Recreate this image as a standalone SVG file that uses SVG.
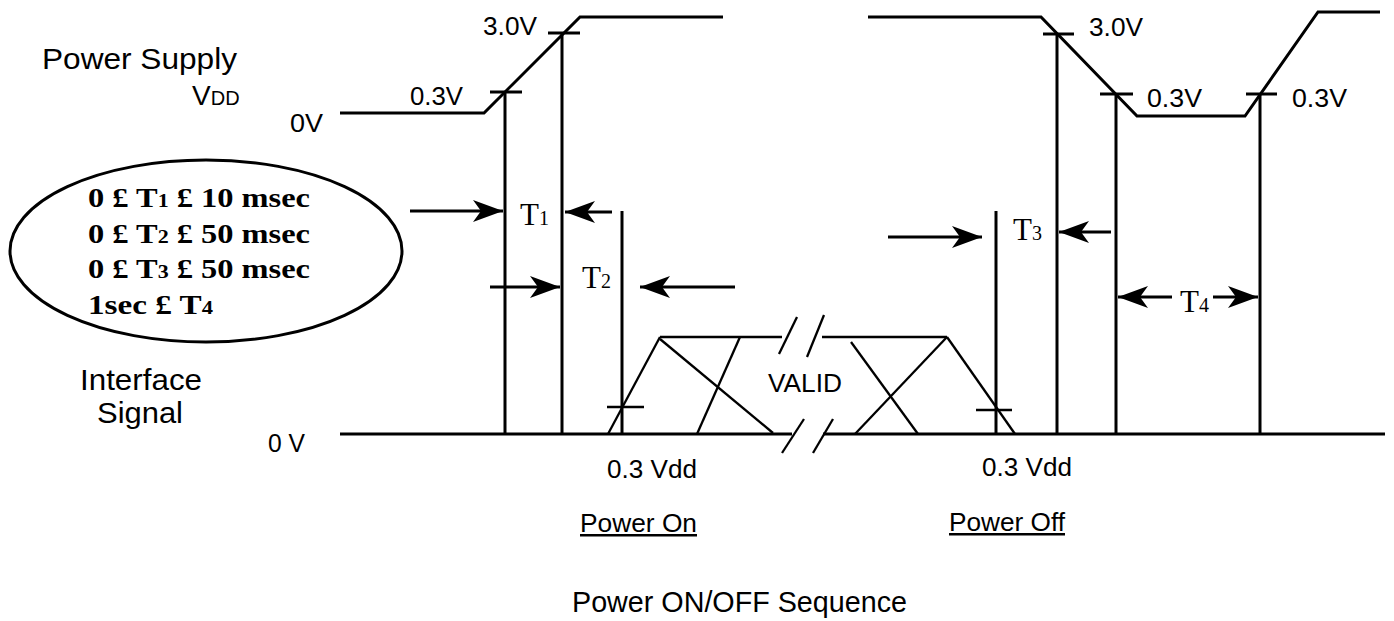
<svg xmlns="http://www.w3.org/2000/svg" width="1394" height="621" viewBox="0 0 1394 621">
<style>
.ln{stroke:#000;stroke-width:3;fill:none;stroke-linecap:butt}
.th{stroke:#000;stroke-width:2.3;fill:none}
.sans{font-family:"Liberation Sans",Arial,sans-serif;fill:#000}
.big{font-size:30px}
.sm{font-size:25px}
.ser{font-family:"Liberation Serif","Times New Roman",serif;fill:#000}
.eq{font-size:28px;font-weight:bold}
.tl{font-size:31px}
</style>
<defs>
<marker id="ah" markerUnits="userSpaceOnUse" markerWidth="32" markerHeight="24" viewBox="-31 -12 32 24" refX="0" refY="0" orient="auto">
<path d="M0,0 L-30,-11 L-22,0 L-30,11 Z" fill="#000"/>
</marker>
</defs>
<rect width="1394" height="621" fill="#fff"/>

<g id="labels-left">
<text class="sans big" x="42" y="69" textLength="195" lengthAdjust="spacingAndGlyphs">Power Supply</text>
<text class="sans" x="192" y="105"><tspan font-size="28">V</tspan><tspan font-size="20">DD</tspan></text>
<text class="sans sm" x="290" y="132" textLength="33" lengthAdjust="spacingAndGlyphs">0V</text>
<text class="sans big" x="80" y="390" textLength="122" lengthAdjust="spacingAndGlyphs">Interface</text>
<text class="sans big" x="97" y="423" textLength="86" lengthAdjust="spacingAndGlyphs">Signal</text>
<text class="sans sm" x="268" y="452" textLength="37" lengthAdjust="spacingAndGlyphs">0 V</text>
</g>

<g id="conditions">
<ellipse cx="206" cy="251" rx="196" ry="91" class="ln" stroke-width="2.5"/>
<text class="ser eq" x="88" y="207" textLength="222" lengthAdjust="spacingAndGlyphs">0 £ T<tspan font-size="19">1</tspan> £  10 msec</text>
<text class="ser eq" x="88" y="243" textLength="222" lengthAdjust="spacingAndGlyphs">0 £ T<tspan font-size="19">2</tspan> £  50 msec</text>
<text class="ser eq" x="88" y="278" textLength="222" lengthAdjust="spacingAndGlyphs">0 £ T<tspan font-size="19">3</tspan> £  50 msec</text>
<text class="ser eq" x="88" y="314" textLength="125" lengthAdjust="spacingAndGlyphs">1sec £ T<tspan font-size="19">4</tspan></text>
</g>

<g id="power-supply-on">
<polyline class="ln" points="340,113 484,113 580,17 723,17"/>
<line class="ln" x1="490" y1="92" x2="522" y2="92"/>
<line class="ln" x1="548" y1="33" x2="580" y2="33"/>
<text class="sans sm" x="410" y="105" textLength="53" lengthAdjust="spacingAndGlyphs">0.3V</text>
<text class="sans sm" x="483" y="35" textLength="54" lengthAdjust="spacingAndGlyphs">3.0V</text>
</g>

<g id="power-supply-off">
<polyline class="ln" points="868,17 1041,17 1137,116 1245,116 1318,12 1380,12"/>
<line class="ln" x1="1043" y1="34" x2="1074" y2="34"/>
<line class="ln" x1="1100" y1="94" x2="1133" y2="94"/>
<line class="ln" x1="1246" y1="94" x2="1277" y2="94"/>
<text class="sans sm" x="1089" y="36" textLength="54" lengthAdjust="spacingAndGlyphs">3.0V</text>
<text class="sans sm" x="1147" y="107" textLength="55" lengthAdjust="spacingAndGlyphs">0.3V</text>
<text class="sans sm" x="1292" y="107" textLength="55" lengthAdjust="spacingAndGlyphs">0.3V</text>
</g>

<g id="interface-signal">
<line class="ln" x1="340" y1="434" x2="792" y2="434"/>
<line class="ln" x1="823" y1="434" x2="1385" y2="434"/>
<line class="th" x1="660" y1="337" x2="782" y2="337"/>
<line class="th" x1="822" y1="337" x2="947" y2="337"/>
<line class="th" x1="608" y1="434" x2="660" y2="337"/>
<line class="th" x1="660" y1="339" x2="773" y2="433"/>
<line class="th" x1="697" y1="434" x2="740" y2="337"/>
<line class="th" x1="851" y1="342" x2="918" y2="434"/>
<line class="th" x1="855" y1="434" x2="947" y2="337"/>
<line class="th" x1="947" y1="337" x2="1015" y2="434"/>
<line class="th" x1="607" y1="407" x2="644" y2="407"/>
<line class="th" x1="976" y1="410" x2="1012" y2="410"/>
<line class="th" x1="779" y1="354" x2="797" y2="317"/>
<line class="th" x1="807" y1="357" x2="824" y2="315"/>
<line class="th" x1="782" y1="453" x2="804" y2="419"/>
<line class="th" x1="813" y1="453" x2="833" y2="419"/>
<text class="sans sm" x="768" y="392" textLength="74" lengthAdjust="spacingAndGlyphs">VALID</text>
<text class="sans sm" x="607" y="478" textLength="90" lengthAdjust="spacingAndGlyphs">0.3 Vdd</text>
<text class="sans sm" x="982" y="476" textLength="90" lengthAdjust="spacingAndGlyphs">0.3 Vdd</text>
</g>

<g id="timing-lines">
<line class="ln" x1="505" y1="92" x2="505" y2="434"/>
<line class="ln" x1="562" y1="33" x2="562" y2="434"/>
<line class="ln" x1="622" y1="211" x2="622" y2="434"/>
<line class="ln" x1="996" y1="211" x2="996" y2="434"/>
<line class="ln" x1="1057" y1="34" x2="1057" y2="434"/>
<line class="ln" x1="1116" y1="94" x2="1116" y2="434"/>
<line class="ln" x1="1260" y1="94" x2="1260" y2="434"/>
</g>

<g id="connectors">
<line class="ln" x1="410" y1="211" x2="503" y2="211" marker-end="url(#ah)"/>
<line class="ln" x1="612" y1="212" x2="565" y2="212" marker-end="url(#ah)"/>
<line class="ln" x1="490" y1="287" x2="560" y2="287" marker-end="url(#ah)"/>
<line class="ln" x1="735" y1="287" x2="640" y2="287" marker-end="url(#ah)"/>
<line class="ln" x1="888" y1="237" x2="982" y2="237" marker-end="url(#ah)"/>
<line class="ln" x1="1111" y1="232" x2="1059" y2="232" marker-end="url(#ah)"/>
<line class="ln" x1="1172" y1="297" x2="1118" y2="297" marker-end="url(#ah)"/>
<line class="ln" x1="1213" y1="297" x2="1258" y2="297" marker-end="url(#ah)"/>
</g>

<g id="t-labels">
<text class="ser tl" x="520" y="225">T<tspan font-size="20">1</tspan></text>
<text class="ser tl" x="582" y="288">T<tspan font-size="20">2</tspan></text>
<text class="ser tl" x="1013" y="240">T<tspan font-size="20">3</tspan></text>
<text class="ser tl" x="1180" y="312">T<tspan font-size="20">4</tspan></text>
</g>

<g id="captions">
<text class="sans sm" x="580" y="532" textLength="117" lengthAdjust="spacingAndGlyphs" text-decoration="underline">Power On</text>
<text class="sans sm" x="949" y="531" textLength="116" lengthAdjust="spacingAndGlyphs" text-decoration="underline">Power Off</text>
<text class="sans big" x="572" y="612" textLength="335" lengthAdjust="spacingAndGlyphs">Power ON/OFF Sequence</text>
</g>
</svg>
